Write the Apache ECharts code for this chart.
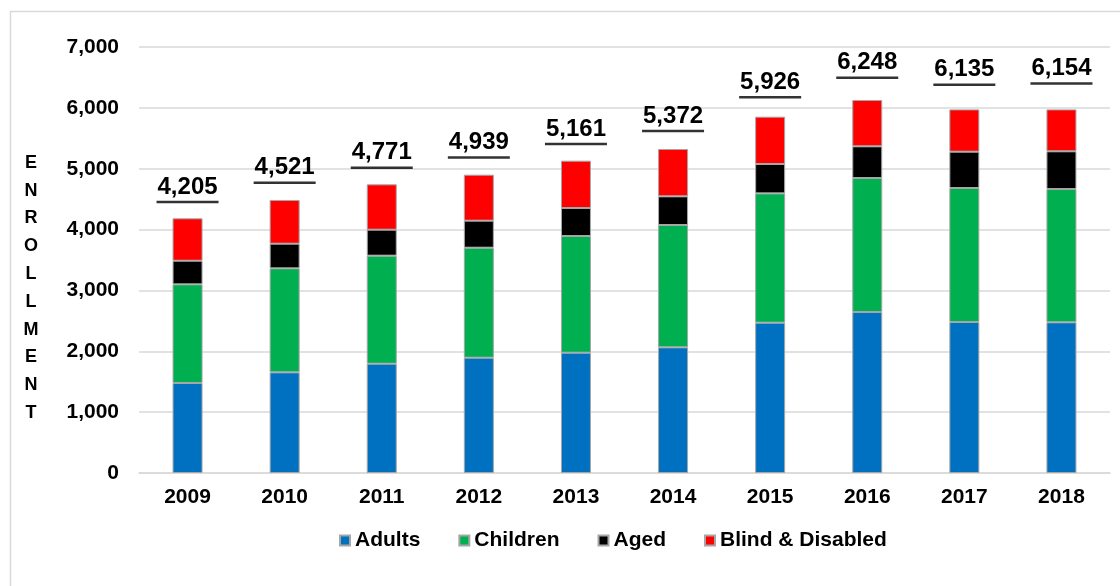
<!DOCTYPE html>
<html>
<head>
<meta charset="utf-8">
<script src="https://cdn.jsdelivr.net/npm/echarts@6/dist/echarts.min.js"></script>
<style>
html,body{margin:0;padding:0;background:#fff;}
#chart{width:1120px;height:586px;}
</style>
</head>
<body>
<div id="chart"></div>
<script>
const years = ['2009','2010','2011','2012','2013','2014','2015','2016','2017','2018'];
const adults   = [1479, 1654, 1796, 1895, 1977, 2065, 2470, 2645, 2481, 2476];
const children = [1621, 1709, 1775, 1807, 1917, 2010, 2125, 2202, 2202, 2190];
const aged     = [388, 405, 427, 444, 460, 471, 482, 521, 597, 620];
const blind    = [697, 718, 745, 756, 778, 778, 778, 761, 695, 689];
const totals   = [4205, 4521, 4771, 4939, 5161, 5372, 5926, 6248, 6135, 6154];
const yTicks   = [0, 1000, 2000, 3000, 4000, 5000, 6000, 7000];
const yTitle   = 'ENROLLMENT';

const FONT = '"Liberation Sans", Arial, sans-serif';
const fmt = v => Number(v).toLocaleString('en-US');

const chart = echarts.init(document.getElementById('chart'));
const barStyle = (color) => ({ color: color, borderColor: '#a6a6a6', borderWidth: 1 });

chart.setOption({
  animation: false,
  backgroundColor: '#fff',
  graphic: [{
    type: 'rect', left: 8, top: 9, z: -10,
    shape: { width: 1200, height: 700 },
    style: { fill: 'none', stroke: '#d9d9d9', lineWidth: 1.5 }
  }, {
    type: 'text', x: 31, y: 149,
    style: {
      text: yTitle.split('').join('\n'),
      font: 'bold 18px ' + FONT,
      fill: '#000', textAlign: 'center', lineHeight: 27.8
    }
  }],
  grid: { left: 139, right: 10, top: 47, bottom: 113 },
  legend: {
    left: 334, top: 525,
    data: ['Adults', 'Children', 'Aged', 'Blind & Disabled'],
    icon: 'rect', itemWidth: 10, itemHeight: 10, itemGap: 38,
    textStyle: { fontFamily: FONT, fontWeight: 'bold', fontSize: 21, color: '#000' }
  },
  xAxis: {
    type: 'category', data: years,
    axisLine: { lineStyle: { color: '#d9d9d9', width: 1.5 } },
    axisTick: { show: false },
    axisLabel: { fontFamily: FONT, fontWeight: 'bold', fontSize: 21, color: '#000', margin: 14 }
  },
  yAxis: {
    type: 'value', min: yTicks[0], max: yTicks[yTicks.length - 1], interval: 1000,
    axisLine: { show: false }, axisTick: { show: false },
    splitLine: { lineStyle: { color: '#d9d9d9', width: 1.5 } },
    axisLabel: { fontFamily: FONT, fontWeight: 'bold', fontSize: 21, color: '#000', margin: 20, formatter: fmt }
  },
  series: [
    { name: 'Adults', type: 'bar', stack: 'e', barWidth: 30, data: adults, itemStyle: barStyle('#0070C0') },
    { name: 'Children', type: 'bar', stack: 'e', barWidth: 30, data: children, itemStyle: barStyle('#00B050') },
    { name: 'Aged', type: 'bar', stack: 'e', barWidth: 30, data: aged, itemStyle: barStyle('#000000') },
    { name: 'Blind & Disabled', type: 'bar', stack: 'e', barWidth: 30, data: blind, itemStyle: barStyle('#FF0000') },
    { name: 'underline', type: 'scatter', data: totals, symbol: 'rect', symbolSize: [62, 2.5],
      symbolOffset: [0, -15], itemStyle: { color: '#000' }, silent: true, z: 5 },
    { name: 'totals', type: 'scatter', data: totals, symbolSize: 0, itemStyle: { color: '#000', opacity: 0 },
      silent: true, z: 6,
      label: { show: true, position: 'top', distance: 18, formatter: p => fmt(p.value),
        fontFamily: FONT, fontWeight: 'bold', fontSize: 24, color: '#000',
        textBorderWidth: 0, opacity: 1 } }
  ]
});
</script>
</body>
</html>
